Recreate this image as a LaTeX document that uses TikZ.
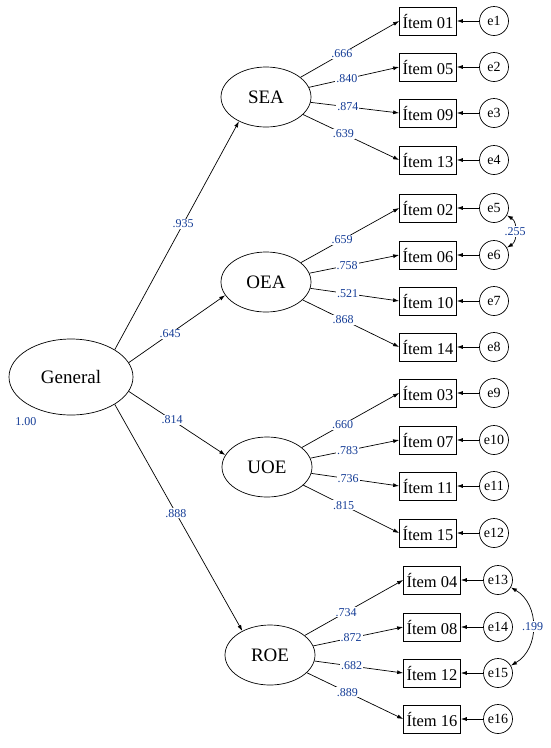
\documentclass[tikz,border=0pt]{standalone}
\usepackage{fontspec}
\setmainfont{Liberation Serif}
\usetikzlibrary{arrows.meta,shapes.geometric}
\definecolor{coefblue}{RGB}{20,60,150}

\begin{document}
\begin{tikzpicture}[x=1pt,y=-1pt,line width=0.7pt,
    latent/.style={draw,ellipse,minimum width=90pt,minimum height=60pt,font=\fontsize{19}{19}\selectfont},
    item/.style={draw,rectangle,minimum width=57pt,minimum height=28pt,inner sep=1pt,font=\fontsize{16.5}{16.5}\selectfont},
    err/.style={draw,circle,minimum size=29pt,inner sep=0pt,font=\fontsize{14}{14}\selectfont},
    coef/.style={fill=white,inner sep=1pt,text=coefblue,font=\fontsize{12}{12}\selectfont},
    tip/.style={-{Latex[length=6pt,width=4pt]}},
    covtip/.style={{Latex[length=6pt,width=4pt]}-{Latex[length=6pt,width=4pt]}}]
        \useasboundingbox (0,0) rectangle (550,748);
        \node[latent,minimum width=124pt,minimum height=76pt] (General) at (71,377) {General};
        \node[coef,fill=none] (gvar) at (26,422) {1.00};
        \node[latent] (SEA) at (266,97) {SEA};
        \node[latent] (OEA) at (266,282) {OEA};
        \node[latent] (UOE) at (267,467) {UOE};
        \node[latent] (ROE) at (270,655) {ROE};
        \draw[tip] (General.32) -- (SEA.222) node[coef,pos=0.55]{.935};
        \draw[tip] (General.14) -- (OEA.198) node[coef,pos=0.43]{.645};
        \draw[tip] (General.-14) -- (UOE.164) node[coef,pos=0.45]{.814};
        \draw[tip] (General.-32) -- (ROE.139) node[coef,pos=0.48]{.888};
        \foreach \i/\n/\y/\f/\c in {1/01/21/SEA/.666, 2/05/67/SEA/.840, 3/09/113/SEA/.874, 4/13/160/SEA/.639,
            5/02/208/OEA/.659, 6/06/255/OEA/.758, 7/10/301/OEA/.521, 8/14/347/OEA/.868,
            9/03/393/UOE/.660, 10/07/440/UOE/.783, 11/11/486/UOE/.736, 12/15/533/UOE/.815,
            13/04/580/ROE/.734, 14/08/627/ROE/.872, 15/12/673/ROE/.682, 16/16/719/ROE/.889}{
            \pgfmathsetmacro\dx{\i>12 ? 4 : 0}
            \node[item] (item\n) at (428+\dx,\y) {Ítem \n};
            \node[err] (e\i) at (494+\dx,\y) {e\i};
            \draw[tip] (e\i) -- (item\n);
            \draw[tip] (\f) -- (item\n.west) node[coef,pos=0.42]{\c};
        }
        \draw[covtip] (e5) to[bend left=60] node[coef]{.255} (e6);
        \draw[covtip] (e13) to[bend left=60,looseness=1.1] node[coef]{.199} (e15);
    \end{tikzpicture}
\end{document}
